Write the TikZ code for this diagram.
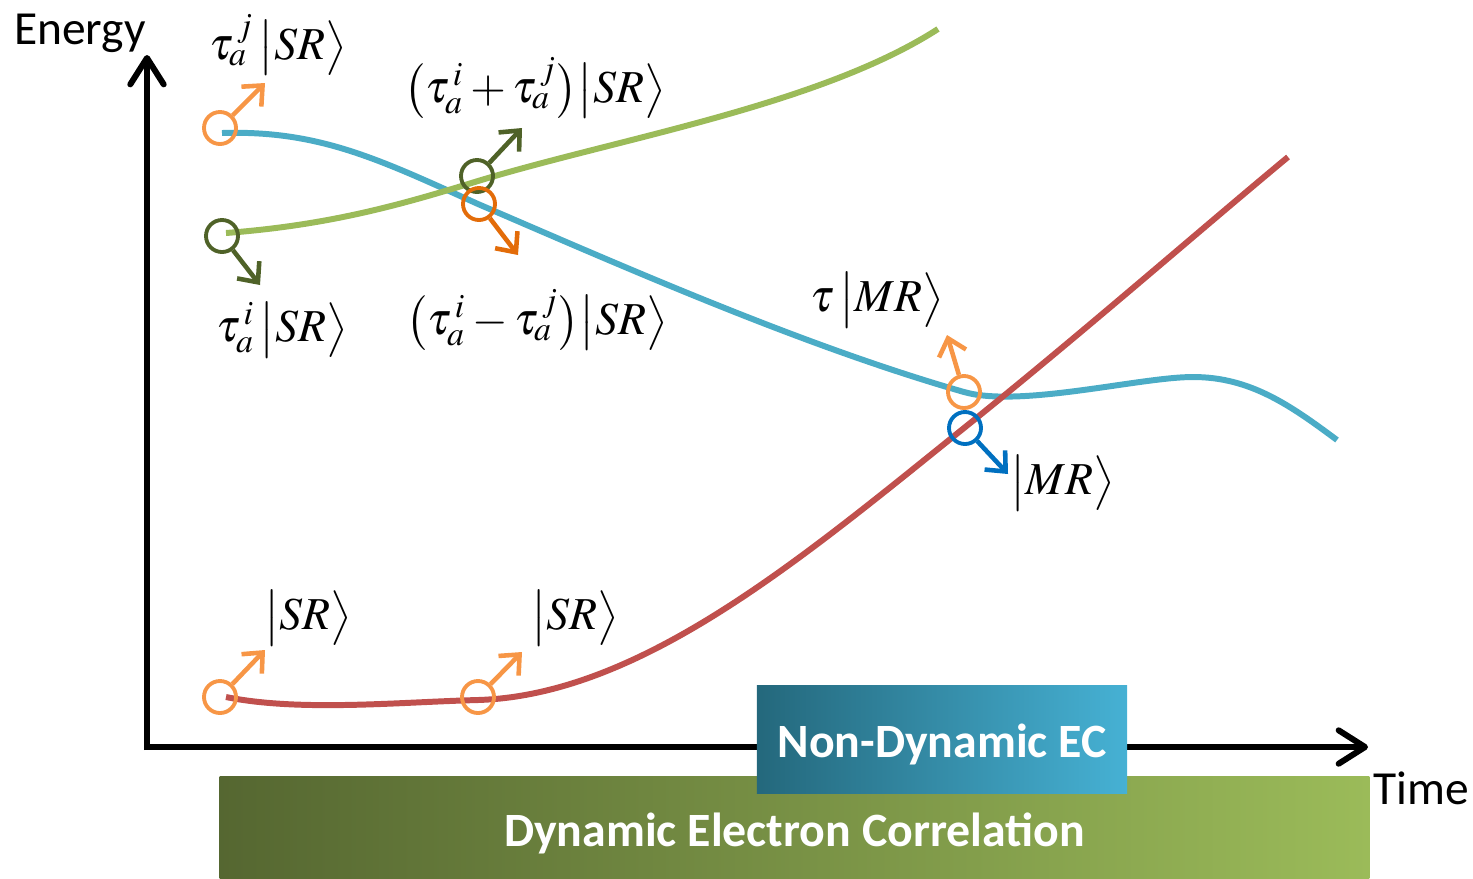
\documentclass[tikz,border=0pt]{standalone}
\usepackage{mathptmx}
\usepackage{fontspec}
\setmainfont{Carlito}
\usetikzlibrary{arrows.meta}

\definecolor{lineblue}{HTML}{4BACC6}
\definecolor{linegreen}{HTML}{9BBB59}
\definecolor{linered}{HTML}{C0504D}
\definecolor{ringorange}{HTML}{F79646}
\definecolor{ringdark}{HTML}{E36C09}
\definecolor{ringgreen}{HTML}{4F6228}
\definecolor{ringblue}{HTML}{0070C0}

\begin{document}
\begin{tikzpicture}[
    x=0.01cm, y=-0.01cm,
    axis/.style={line width=1.7pt, -{Straight Barb[length=7.5pt, width=9.5pt, line width=1.7pt, round]}},
    curve/.style={line width=1.7pt, draw=#1},
    ring/.style={circle, draw=#1, line width=1.1pt, minimum size=0.32cm, inner sep=0pt},
    kick/.style={draw=#1, line width=1.3pt, -{Straight Barb[length=4.5pt, width=8pt, line width=1.3pt]}},
    ket/.style={font=\fontsize{13}{15}\selectfont},
    axislabel/.style={font=\fontsize{13.5}{15}\selectfont},
    band/.style={rectangle, inner sep=0pt, text=white, font=\bfseries\fontsize{13.6}{15}\selectfont}
]
\useasboundingbox (0,0) rectangle (1473,878);

% curves
\draw[curve=lineblue] (222,133) .. controls (320,130) and (380,160) .. (478,204)
    .. controls (620,265) and (800,345) .. (964,392)
    .. controls (1020,408) and (1140,377) .. (1193,377)
    .. controls (1250,377) and (1290,405) .. (1337,440);
\draw[curve=linegreen] (226,233) .. controls (330,225) and (400,205) .. (478,181)
    .. controls (620,138) and (820,105) .. (938,29);
\draw[curve=linered] (226,697) .. controls (300,712) and (400,702) .. (478,700)
    .. controls (640,695) and (800,560) .. (964,428)
    .. controls (1080,335) and (1200,230) .. (1288,157);

% axes
\coordinate (ytop) at (147,55);
\coordinate (xend) at (1368,747);
\draw[axis] (147,750) -- (ytop);
\draw[axis] (144,747) -- (xend);
\node[axislabel] (energy) at (80,33) {Energy};
\node[axislabel] (time) at (1421,788) {Time};

% correlation bands
\node[band, left color=black!45!linegreen, right color=linegreen,
      minimum width=11.49cm, minimum height=1.01cm,
      text height=12pt, text depth=1pt] (dyn) at (794.5,827.5) {Dynamic Electron Correlation};
\node[band, left color={rgb,255:red,36;green,104;blue,124}, right color={rgb,255:red,70;green,177;blue,212},
      minimum width=3.7cm, minimum height=1.07cm,
      text height=11pt, text depth=1pt] (nondyn) at (942,739.5) {Non-Dynamic EC};

% rings and kicks
\node[ring=ringorange] (r1) at (220,128) {};
\node[ring=ringgreen]  (r2) at (222,236) {};
\node[ring=ringgreen]  (r3) at (477,176) {};
\node[ring=ringdark]   (r4) at (479,204) {};
\node[ring=ringorange] (r5) at (964,392) {};
\node[ring=ringblue]   (r6) at (965,428) {};
\node[ring=ringorange] (r7) at (220,697) {};
\node[ring=ringorange] (r8) at (478,697) {};

\coordinate (k1) at (265,83);
\coordinate (k2) at (260,285);
\coordinate (k3) at (522,128);
\coordinate (k4) at (518,255);
\coordinate (k5) at (947,335);
\coordinate (k6) at (1008,474);
\coordinate (k7) at (265,650);
\coordinate (k8) at (522,652);

\draw[kick=ringorange] (r1) -- (k1);
\draw[kick=ringgreen]  (r2) -- (k2);
\draw[kick=ringgreen]  (r3) -- (k3);
\draw[kick=ringdark]   (r4) -- (k4);
\draw[kick=ringorange] (r5) -- (k5);
\draw[kick=ringblue]   (r6) -- (k6);
\draw[kick=ringorange] (r7) -- (k7);
\draw[kick=ringorange] (r8) -- (k8);

% labels
\node[ket] (l1) at (278,45)  {$\tau_a^{\,j}\,\big|SR\big\rangle$};
\node[ket] (l2) at (282,330) {$\tau_a^{\,i}\,\big|SR\big\rangle$};
\node[ket] (l3) at (535,88)  {$\big(\tau_a^{\,i}+\tau_a^{\,j}\big)\big|SR\big\rangle$};
\node[ket] (l4) at (537,320) {$\big(\tau_a^{\,i}-\tau_a^{\,j}\big)\big|SR\big\rangle$};
\node[ket] (l5) at (877,300) {$\tau\,\big|MR\big\rangle$};
\node[ket] (l6) at (1063,483) {$\big|MR\big\rangle$};
\node[ket] (l7) at (308,618) {$\big|SR\big\rangle$};
\node[ket] (l8) at (575,618) {$\big|SR\big\rangle$};
\end{tikzpicture}
\end{document}
